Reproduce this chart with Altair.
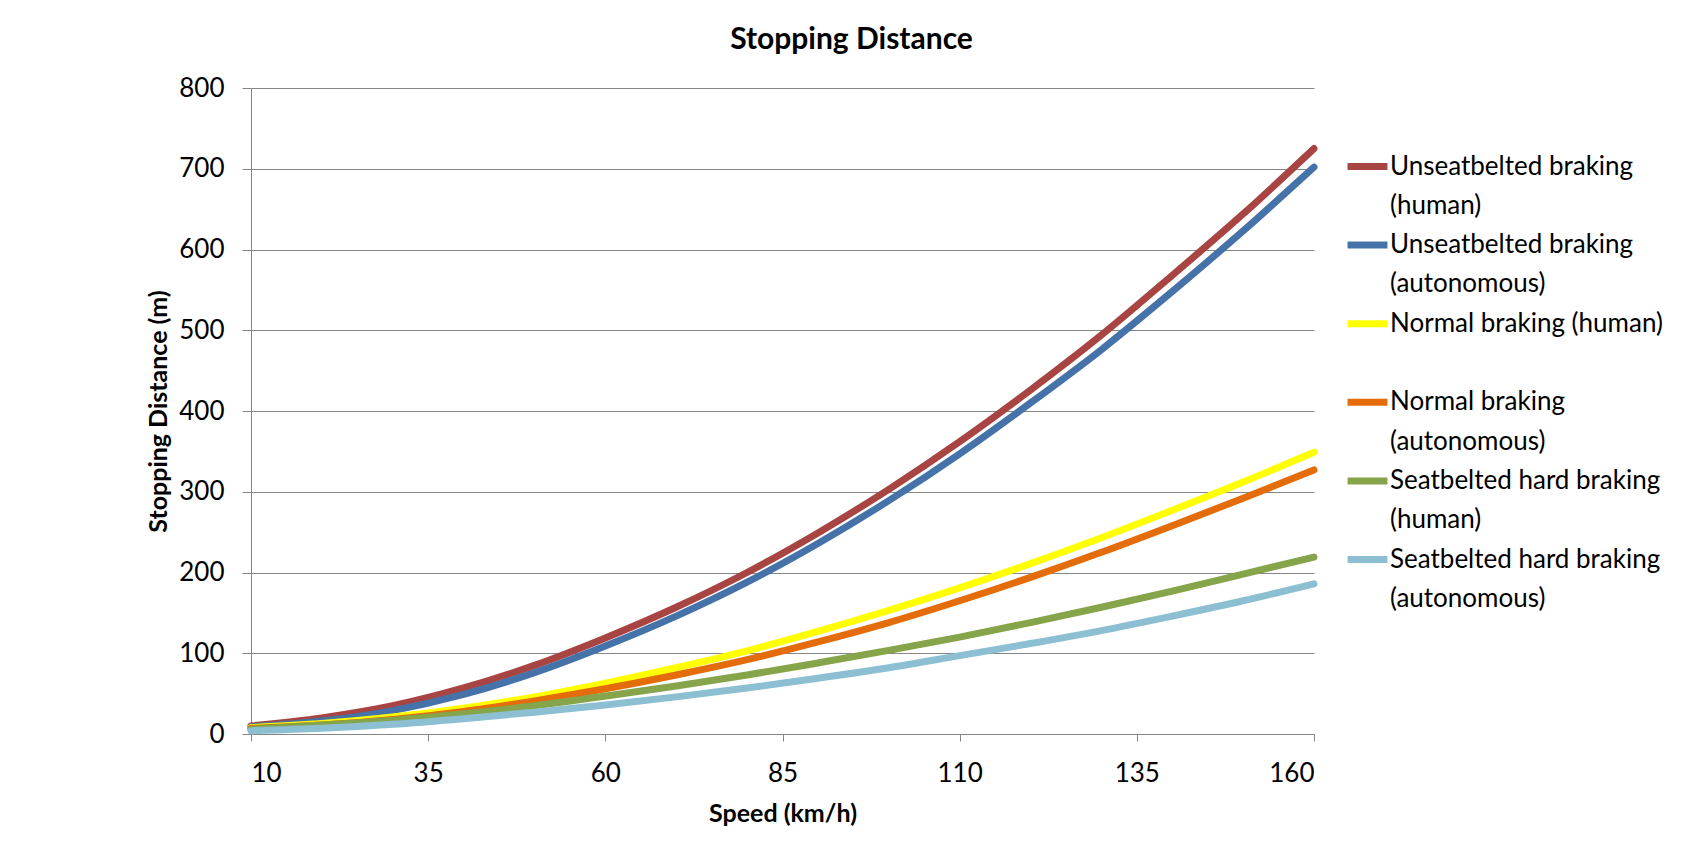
import altair as alt
import pandas as pd

speeds = [10, 20, 30, 40, 50, 60, 70, 80, 90, 100, 110, 120, 130, 140, 150, 160]
unseat_human = [10, 20, 35, 57, 85, 119, 157, 200, 249, 303, 362, 426, 494, 568, 644, 725]
unseat_auto = [9, 16, 29, 49, 76, 109, 146, 188, 236, 289, 347, 410, 476, 548, 623, 702]
normal_human = [8, 13, 21, 32, 46, 63, 82, 103, 127, 153, 181, 211, 243, 277, 312, 349]
normal_auto = [7, 11, 18, 28, 41, 56, 73, 92, 114, 138, 165, 194, 225, 258, 292, 327]
belt_human = [6, 11, 17, 25, 35, 47, 59.5, 73, 88, 103.5, 120, 138, 157, 177, 198, 219]
belt_auto = [4, 7, 12, 19, 27, 36, 46, 57, 69, 82, 97, 112, 128, 146, 165, 186]

# series name = first legend line, second legend line after "|"
series_names = [
    "Unseatbelted braking|(human)",
    "Unseatbelted braking|(autonomous)",
    "Normal braking (human)",
    "Normal braking|(autonomous)",
    "Seatbelted hard braking|(human)",
    "Seatbelted hard braking|(autonomous)",
]
series_values = [unseat_human, unseat_auto, normal_human, normal_auto, belt_human, belt_auto]
series_colors = ["#A84542", "#4572A8", "#FFFF00", "#E46C0A", "#86A44A", "#8DBFD3"]
x_ticks = [10, 35, 60, 85, 110, 135, 160]
y_ticks = [0, 100, 200, 300, 400, 500, 600, 700, 800]

rows = []
for i, (name, vals) in enumerate(zip(series_names, series_values)):
    for s, v in zip(speeds, vals):
        rows.append({"series": name, "order": i, "speed": s, "distance": v})
df = pd.DataFrame(rows)

# Legend rows: each series' first line, then a symbol-less row for its second line
legend_domain = []
legend_range = []
used = set()
for name, col in zip(series_names, series_colors):
    legend_domain.append(name)
    legend_range.append(col)
    second = name.split("|")[1] if "|" in name else " "
    while second in used:
        second += " "
    used.add(second)
    legend_domain.append(second)
    legend_range.append("transparent")

FONT = "Lato"

chart = (
    alt.Chart(df)
    .mark_line(strokeWidth=7, strokeCap="round", strokeJoin="round", interpolate="monotone")
    .encode(
        x=alt.X(
            "speed:Q",
            title="Speed (km/h)",
            scale=alt.Scale(domain=[10, 160], nice=False, zero=False),
            axis=alt.Axis(values=x_ticks, grid=False, tickSize=7, labelPadding=19,
                          titlePadding=15, domainColor="#868686", tickColor="#868686"),
        ),
        y=alt.Y(
            "distance:Q",
            title="Stopping Distance (m)",
            scale=alt.Scale(domain=[0, 800], nice=False),
            axis=alt.Axis(values=y_ticks, grid=True, gridColor="#868686", tickSize=9,
                          labelPadding=18, titlePadding=7, domainColor="#868686",
                          tickColor="#868686"),
        ),
        color=alt.Color(
            "series:N",
            scale=alt.Scale(domain=legend_domain, range=legend_range),
            legend=alt.Legend(
                title=None,
                orient="none",
                legendX=1098,
                legendY=60,
                labelExpr="split(datum.label, '|')[0]",
                symbolType="M-1.33,0L1.33,0",
                symbolSize=900,
                symbolStrokeWidth=7,
                symbolFillColor="transparent",
                labelOffset=4,
                labelFontSize=26,
                labelFont=FONT,
                labelColor="#000000",
                labelLimit=400,
                rowPadding=6.3,
                gridAlign="all",
                padding=0,
            ),
        ),
        order=alt.Order("order:Q"),
    )
    .properties(
        width=1063,
        height=646,
        title=alt.TitleParams("Stopping Distance", fontSize=30, font=FONT, fontWeight="bold",
                              anchor="middle", dx=69, offset=20, color="#000000"),
        autosize=alt.AutoSizeParams(type="none"),
        padding={"left": 243, "top": 80, "right": 360, "bottom": 98},
    )
    .configure_axis(
        labelFont=FONT,
        labelFontSize=26,
        labelColor="#000000",
        titleFont=FONT,
        titleFontSize=25,
        titleFontWeight="bold",
        titleColor="#000000",
        domainWidth=1,
        gridWidth=1,
    )
    .configure_view(stroke=None)
)

chart.save("out.html", embed_options={"renderer": "svg", "actions": False})
